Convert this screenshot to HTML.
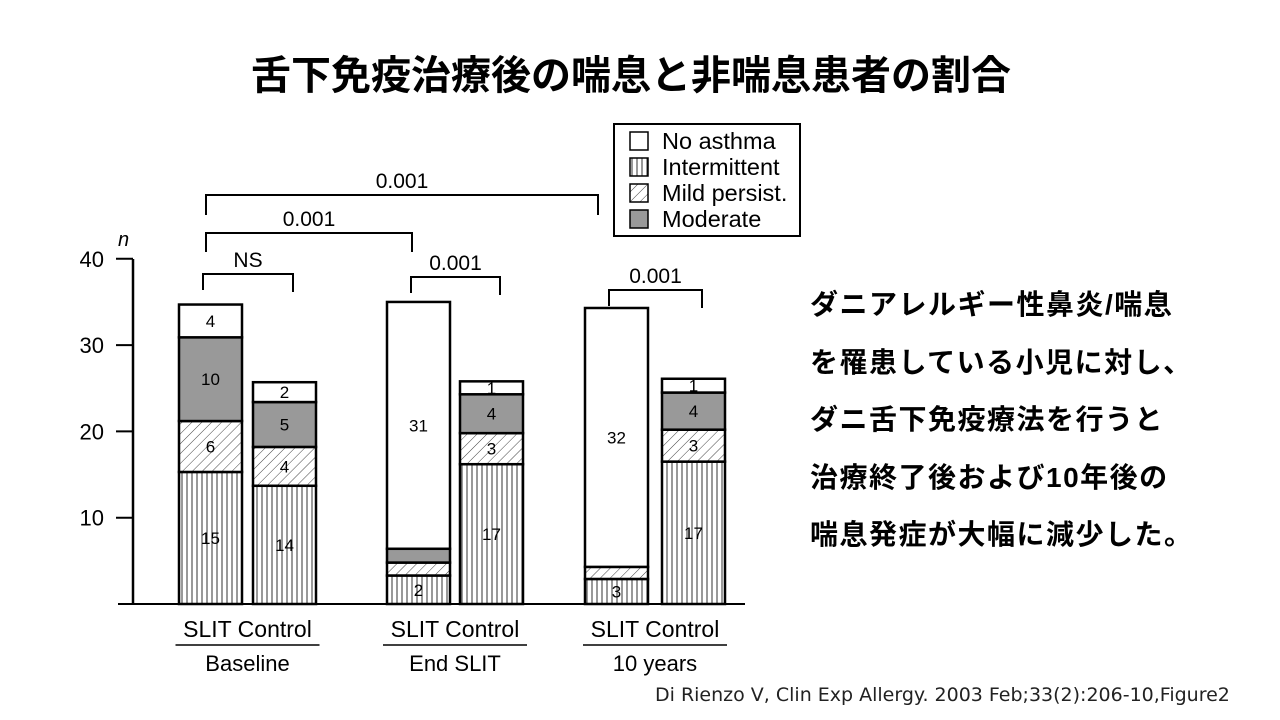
<!DOCTYPE html>
<html><head><meta charset="utf-8">
<style>
body{margin:0;width:1280px;height:720px;background:#fff;overflow:hidden;position:relative;font-family:"Liberation Sans","Noto Sans CJK JP",sans-serif}
.title{position:absolute;left:0;width:1262px;top:50px;text-align:center;font-size:40px;line-height:52px;font-weight:bold;font-family:"Liberation Sans","Noto Sans CJK JP",sans-serif}
.side{position:absolute;left:810px;top:276px;font-size:28px;letter-spacing:1.5px;font-weight:bold;line-height:57.5px;font-family:"Liberation Sans","Noto Sans CJK JP",sans-serif}
.cite{position:absolute;left:655px;top:684px;font-size:19px;color:#222;font-family:"DejaVu Sans",sans-serif}
svg{position:absolute;left:0;top:0}
</style></head><body>
<div class="title">舌下免疫治療後の喘息と非喘息患者の割合</div>
<div class="side">ダニアレルギー性鼻炎/喘息<br>を罹患している小児に対し、<br>ダニ舌下免疫療法を行うと<br>治療終了後および10年後の<br>喘息発症が大幅に減少した。</div>
<div class="cite">Di Rienzo V, Clin Exp Allergy. 2003 Feb;33(2):206-10,Figure2</div>
<svg id="chart" width="1280" height="720">
<defs>
<pattern id="pv" width="5" height="10" patternUnits="userSpaceOnUse"><rect width="5" height="10" fill="#fff"/><line x1="2" y1="0" x2="2" y2="10" stroke="#333" stroke-width="1"/></pattern>
<pattern id="pd" width="7" height="7" patternUnits="userSpaceOnUse" patternTransform="rotate(45)"><rect width="7" height="7" fill="#fff"/><line x1="0" y1="0" x2="0" y2="7" stroke="#444" stroke-width="1"/></pattern>
</defs>
</svg>
<script>
const groups=["Baseline","End SLIT","10 years"];
const barNames=["SLIT","Control","SLIT","Control","SLIT","Control"];
const intermittent=[15.3,13.7,3.3,16.2,2.9,16.5];
const mildPersist=[5.9,4.5,1.5,3.6,1.4,3.7];
const moderate=[9.7,5.2,1.6,4.5,0,4.3];
const noAsthma=[3.8,2.3,28.6,1.5,30.0,1.6];
const labIntermittent=["15","14","2","17","3","17"];
const labMild=["6","4","","3","","3"];
const labModerate=["10","5","","4","","4"];
const labNo=["4","2","31","1","32","1"];
const yTicks=[10,20,30,40];
const brackets=[{a:0,b:1,p:"NS",lvl:0},{a:2,b:3,p:"0.001",lvl:0},{a:4,b:5,p:"0.001",lvl:0},{a:0,b:2,p:"0.001",lvl:1},{a:0,b:4,p:"0.001",lvl:2}];
const svg=document.getElementById('chart');const NS="http://www.w3.org/2000/svg";
function y(v){return 604-v*8.63;}
const barX=[179,253,387,460,585,662];const bw=63;
function bx(i){return barX[i];}
function mk(t,a,p){const e=document.createElementNS(NS,t);for(const k in a)e.setAttribute(k,a[k]);(p||svg).appendChild(e);return e;}
let ax=mk('line',{x1:133,y1:259,x2:133,y2:604,stroke:'#000','stroke-width':2.5});


let xl=mk('line',{x1:118,y1:604,x2:745,y2:604,stroke:'#000','stroke-width':2});


yTicks.forEach(v=>{mk('line',{x1:116,y1:y(v),x2:133,y2:y(v),stroke:'#000','stroke-width':2});
const t=mk('text',{x:104,y:y(v)+8,'text-anchor':'end','font-size':22});t.textContent=v;

});
const nl=mk('text',{x:118,y:246,'font-size':20,'font-style':'italic'});nl.textContent='n';


const segs=[[intermittent,'url(#pv)',labIntermittent],[mildPersist,'url(#pd)',labMild],[moderate,'#999',labModerate],[noAsthma,'#fff',labNo]];
for(let i=0;i<6;i++){let base=0;segs.forEach((s,k)=>{const v=s[0][i];if(v<=0)return;
const r=mk('rect',{x:bx(i),y:y(base+v),width:bw,height:v*8.63,fill:s[1],stroke:'#000','stroke-width':2.5});


if(s[2][i]){const t=mk('text',{x:bx(i)+bw/2,y:y(base+v/2)+6,'text-anchor':'middle','font-size':17});t.textContent=s[2][i];

}
base+=v;});}
groups.forEach((g,j)=>{const cx=(bx(2*j)+bx(2*j+1)+bw)/2;
const s=mk('text',{x:cx,y:637,'text-anchor':'middle','font-size':23});s.textContent=barNames[2*j]+' '+barNames[2*j+1];


mk('line',{x1:cx-72,y1:645,x2:cx+72,y2:645,stroke:'#000','stroke-width':1.5});
const t=mk('text',{x:cx,y:671,'text-anchor':'middle','font-size':22});t.textContent=g;

});
brackets.forEach(b=>{let x1=bx(b.a)+27,x2=bx(b.b)+47,top,bot1,bot2;
if(b.lvl==0){top={0:274,2:277,4:290}[b.a];bot1=top+16;bot2=top+18;x1=bx(b.a)+24;x2=bx(b.b)+40;}
else if(b.lvl==1){top=233;bot1=252;bot2=252;x2=412;x1=206;}
else{top=195;bot1=215;bot2=215;x1=206;x2=598;}
const p=mk('path',{d:`M${x1},${bot1} V${top} H${x2} V${bot2}`,fill:'none',stroke:'#000','stroke-width':2});


const t=mk('text',{x:(x1+x2)/2,y:top-7,'text-anchor':'middle','font-size':21});t.textContent=b.p;

});
const lg=mk('rect',{x:614,y:124,width:186,height:112,fill:'#fff',stroke:'#000','stroke-width':2});


const legItems=[['No asthma','#fff'],['Intermittent','url(#pv)'],['Mild persist.','url(#pd)'],['Moderate','#999']];
legItems.forEach((l,k)=>{const yy=132+k*26;
mk('rect',{x:630,y:yy,width:18,height:18,fill:l[1],stroke:'#000','stroke-width':1.5});
const t=mk('text',{x:662,y:yy+17,'font-size':23.5});t.textContent=l[0];

});
</script>
</body></html>
